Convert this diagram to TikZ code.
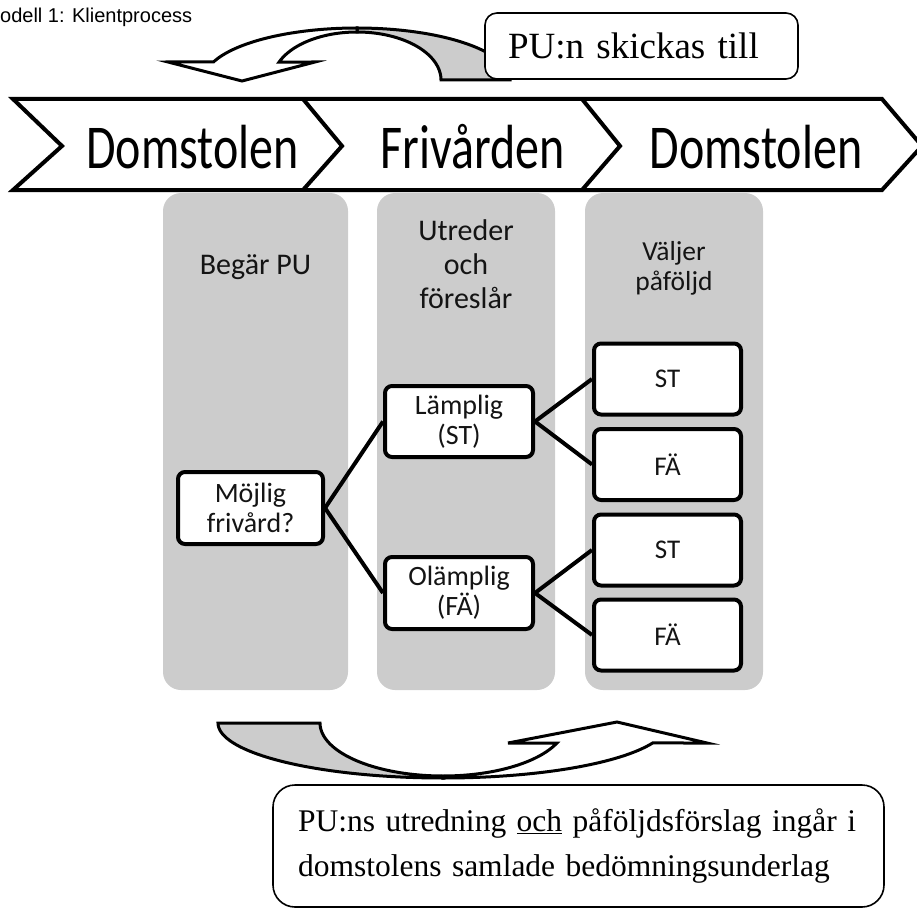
\documentclass[tikz,border=0pt]{standalone}
\usepackage{fontspec}
\usepackage{graphicx}
\setmainfont{Liberation Serif}
\newfontfamily\calfont{Carlito}
\newfontfamily\arialfont{Liberation Sans}
\usetikzlibrary{calc}
\begin{document}
\begin{tikzpicture}[x=1pt,y=-1pt,
  colbox/.style={fill=black!20, draw=none, rounded corners=18pt},
  bandtext/.style={anchor=base, inner sep=0pt, font=\calfont\fontsize{48}{52}\selectfont},
  header/.style={align=center, inner sep=0pt, text=black!92, font=\calfont\fontsize{30}{34}\selectfont},
  stagebox/.style={draw, fill=white, line width=4pt, rounded corners=7pt, align=center, inner sep=0pt,
     text=black!92, font=\calfont\fontsize{28}{30}\selectfont},
  choicebox/.style={stagebox, minimum width=147, minimum height=71, font=\calfont\fontsize{27}{30}\selectfont},
  link/.style={line width=4pt},
  callout/.style={draw, fill=white, line width=1.6pt, rounded corners=12pt, align=left},
  arrowline/.style={draw, line width=3pt, line join=miter},
]
\useasboundingbox (0,0) rectangle (917,912);

% title
\node[anchor=base west, inner sep=0pt, font=\arialfont\fontsize{20}{24}\selectfont] (title) at (0,23) {odell 1: Klientprocess};

% grey columns
\fill[colbox] (163,193) rectangle (348,690);
\fill[colbox] (377,193) rectangle (555,690);
\fill[colbox] (585,193) rectangle (763,690);

% chevron band
\draw[line width=4pt, fill=white, line join=miter]
  (13,99) -- (882,99) -- (922,146) -- (882,190) -- (13,190) -- (62,146) -- cycle;
\draw[line width=4pt, line join=miter] (303,99) -- (342,146) -- (303,190);
\draw[line width=4pt, line join=miter] (582,99) -- (620,146) -- (582,190);
\node[bandtext] (d1) at (192.5,168) {\scalebox{1}[1.3]{Domstolen}};
\node[bandtext] (fr) at (473,168) {\scalebox{1}[1.3]{Frivården}};
\node[bandtext] (d2) at (756,168) {\scalebox{1}[1.3]{Domstolen}};

% column headers
\node[header] (h1) at (255.5,267) {Begär PU};
\node[header] (h2) at (466,264) {Utreder\\och\\föreslår};
\node[header, font=\calfont\fontsize{27.5}{30}\selectfont] (h3) at (674,268) {Väljer\\påföljd};

% boxes
\node[stagebox, minimum width=145, minimum height=72] (m) at (250.5,508) {Möjlig\\frivård?};
\node[stagebox, minimum width=148, minimum height=71] (l) at (459,421.5) {Lämplig\\(ST)};
\node[stagebox, minimum width=148, minimum height=72] (o) at (459,593) {Olämplig\\(FÄ)};
\node[choicebox] (st1) at (667.5,379) {ST};
\node[choicebox] (fa1) at (667.5,464.5) {FÄ};
\node[choicebox] (st2) at (667.5,550) {ST};
\node[choicebox] (fa2) at (667.5,635) {FÄ};

% connectors
\draw[link] (m.east) -- (l.west);
\draw[link] (m.east) -- (o.west);
\draw[link] (l.east) -- (st1.west);
\draw[link] (l.east) -- (fa1.west);
\draw[link] (o.east) -- (st2.west);
\draw[link] (o.east) -- (fa2.west);

% top curved arrow
\filldraw[arrowline, fill=black!20]
  plot[domain=270:360, samples=40, variable=\t] ({357+153*cos(\t)},{80+52*sin(\t)})
  -- plot[domain=0:-90, samples=40, variable=\t] ({357+84*cos(\t)},{80+48*sin(\t)})
  -- cycle;
\filldraw[arrowline, fill=white]
  plot[domain=200.3:270, samples=40, variable=\t] ({357+153*cos(\t)},{80+52*sin(\t)})
  -- plot[domain=270:202, samples=40, variable=\t] ({357+84*cos(\t)},{80+48*sin(\t)})
  -- (315,62) -- (242,81) -- (168,62) -- cycle;

% bottom curved arrow
\filldraw[arrowline, fill=black!20]
  plot[domain=180:90, samples=40, variable=\t] ({443+225*cos(\t)},{723+55*sin(\t)})
  -- plot[domain=90:180, samples=40, variable=\t] ({443+123*cos(\t)},{723+53*sin(\t)})
  -- cycle;
\filldraw[arrowline, fill=white]
  plot[domain=90:21.3, samples=40, variable=\t] ({443+225*cos(\t)},{723+55*sin(\t)})
  -- (707,743) -- (617,722) -- (508,743)
  -- plot[domain=22.2:90, samples=40, variable=\t] ({443+123*cos(\t)},{723+53*sin(\t)})
  -- cycle;

% callouts
\node[callout, minimum width=313, minimum height=66, inner xsep=23pt, text width=267pt,
  font=\fontsize{37}{40}\selectfont] (c1) at (641.5,46) {PU:n skickas till};
\node[callout, rounded corners=22pt, minimum width=611, minimum height=122, inner xsep=25pt, text width=561pt,
  font=\fontsize{31.5}{45}\selectfont] (c2) at (578.5,846)
  {PU:ns utredning \underline{och} påföljdsförslag ingår i\\domstolens samlade bedömningsunderlag};
\end{tikzpicture}
\end{document}
